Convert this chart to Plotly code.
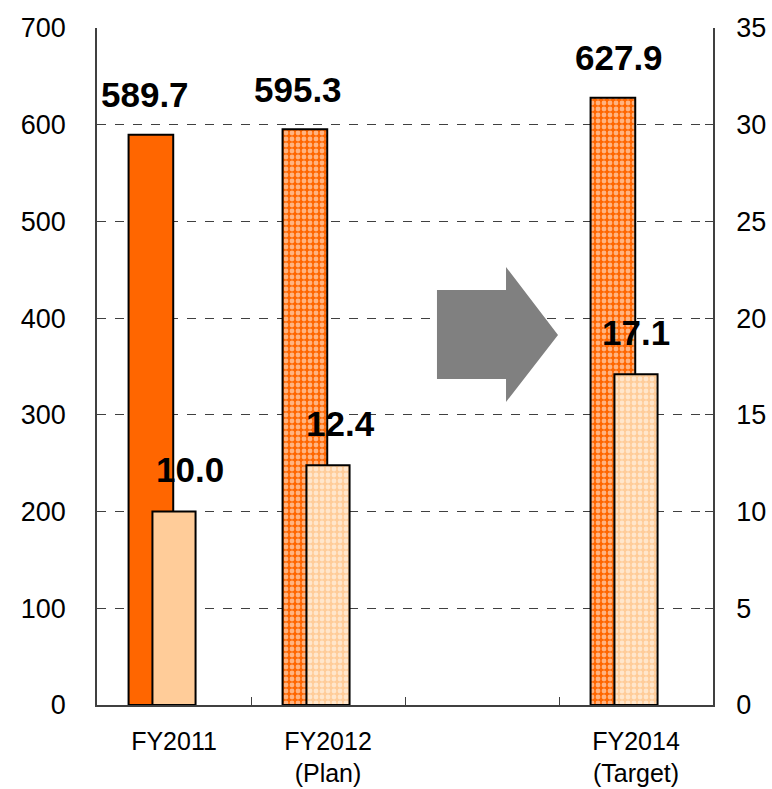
import plotly.graph_objects as go

# Categories on the x axis (the third slot is left empty for the arrow)
categories = ["FY2011", "FY2012", "gap", "FY2014"]
tick_text = ["FY2011", "FY2012<br>(Plan)", "", "FY2014<br>(Target)"]

# Left axis series and right axis series
left_x = ["FY2011", "FY2012", "FY2014"]
left_values = [589.7, 595.3, 627.9]
right_x = ["FY2011", "FY2012", "FY2014"]
right_values = [10.0, 12.4, 17.1]

FONT = "Liberation Sans, Arial, sans-serif"
ORANGE = "#FF6600"
PEACH = "#FFCC99"

fig = go.Figure()

fig.add_trace(go.Bar(
    x=left_x, y=left_values, yaxis="y",
    width=0.29, offset=-0.295,
    marker=dict(
        color=ORANGE,
        line=dict(color="black", width=2),
        pattern=dict(shape=["", ".", "."], fgcolor="white",
                     size=6, solidity=0.5, fillmode="overlay"),
    ),
    showlegend=False, hoverinfo="skip",
))

fig.add_trace(go.Bar(
    x=right_x, y=right_values, yaxis="y2",
    width=0.28, offset=-0.14,
    marker=dict(
        color=PEACH,
        line=dict(color="black", width=2),
        pattern=dict(shape=["", ".", "."], fgcolor="white",
                     size=6, solidity=0.5, fillmode="overlay"),
    ),
    showlegend=False, hoverinfo="skip",
))

# Value labels above the bars
left_shift = [-29, -30, -17]
right_shift = [16, 12, 0]
annotations = []
for cat, val, dx in zip(left_x, left_values, left_shift):
    annotations.append(dict(x=cat, y=val, xref="x", yref="y", text=f"{val:.1f}",
                            showarrow=False, xshift=dx, yshift=40,
                            font=dict(family=FONT, size=35, color="black", weight="bold")))
for cat, val, dx in zip(right_x, right_values, right_shift):
    annotations.append(dict(x=cat, y=val, xref="x", yref="y2", text=f"{val:.1f}",
                            showarrow=False, xshift=dx, yshift=42,
                            font=dict(family=FONT, size=35, color="black", weight="bold")))

# Block arrow pointing toward the target year (paper coordinates)
def px(x):
    return (x - 97) / 616

def py(y):
    return (705 - y) / 677

pts = [(437, 290), (506, 290), (506, 267), (558, 335), (506, 402), (506, 379), (437, 379)]
path = "M " + " L ".join(f"{px(a):.4f},{py(b):.4f}" for a, b in pts) + " Z"

fig.update_layout(
    width=772, height=789,
    margin=dict(l=97, r=59, t=28, b=84, autoexpand=False),
    paper_bgcolor="white", plot_bgcolor="white",
    font=dict(family=FONT, size=20, color="black"),
    barmode="overlay",
    annotations=annotations,
    shapes=[dict(type="path", xref="paper", yref="paper", path=path,
                 fillcolor="#808080", line=dict(width=0), layer="above")],
    xaxis=dict(
        type="category", categoryorder="array", categoryarray=categories,
        tickvals=categories, ticktext=tick_text, range=[-0.5, 3.5],
        showline=True, linecolor="#404040", linewidth=1.5,
        ticks="inside", tickson="boundaries", ticklen=8, tickcolor="#404040",
        tickfont=dict(size=25, family=FONT), ticklabelstandoff=13,
        showgrid=False, zeroline=False, automargin=False,
    ),
    yaxis=dict(
        range=[0, 700], dtick=100, showline=True, linecolor="#404040", linewidth=1.5,
        ticks="inside", ticklen=8, tickcolor="#404040",
        tickfont=dict(size=27, family=FONT), ticklabelstandoff=24,
        showgrid=True, gridcolor="#404040", griddash="dash", gridwidth=1,
        zeroline=False, automargin=False,
    ),
    yaxis2=dict(
        range=[0, 35], dtick=5, overlaying="y", side="right", anchor="x",
        showline=True, linecolor="#404040", linewidth=1.5,
        ticks="inside", ticklen=8, tickcolor="#404040",
        tickfont=dict(size=27, family=FONT), ticklabelstandoff=16,
        showgrid=False, zeroline=False, automargin=False,
    ),
)

fig.write_html("out.html")
